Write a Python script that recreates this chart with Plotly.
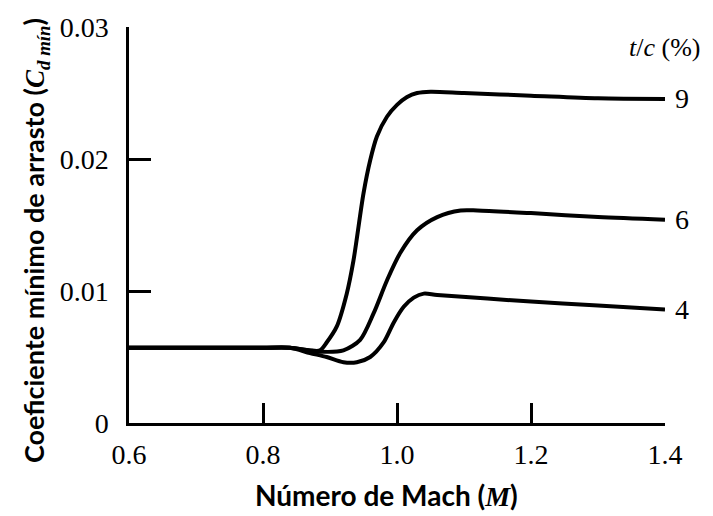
import plotly.graph_objects as go

# Data
mach_9 = [0.6, 0.7, 0.8, 0.84, 0.87, 0.885, 0.895, 0.91, 0.925, 0.935, 0.95, 0.96, 0.97, 0.985, 1.0, 1.015, 1.03, 1.05, 1.1, 1.2, 1.3, 1.4]
cd_9 = [0.0057, 0.0057, 0.0057, 0.0057, 0.0055, 0.0055, 0.0061, 0.0073, 0.0098, 0.0123, 0.0174, 0.0199, 0.0217, 0.0232, 0.0241, 0.0247, 0.0250, 0.0251, 0.0250, 0.0248, 0.0246, 0.02455]

mach_6 = [0.6, 0.7, 0.8, 0.84, 0.87, 0.885, 0.92, 0.945, 0.965, 0.985, 1.005, 1.03, 1.06, 1.095, 1.12, 1.2, 1.3, 1.4]
cd_6 = [0.0057, 0.0057, 0.0057, 0.0057, 0.0055, 0.0054, 0.0055, 0.0063, 0.0083, 0.0108, 0.0129, 0.0146, 0.0156, 0.0161, 0.0161, 0.0159, 0.0156, 0.0154]

mach_4 = [0.6, 0.7, 0.8, 0.84, 0.87, 0.895, 0.92, 0.94, 0.96, 0.98, 0.995, 1.01, 1.025, 1.04, 1.06, 1.2, 1.3, 1.4]
cd_4 = [0.0057, 0.0057, 0.0057, 0.0057, 0.0053, 0.0050, 0.0046, 0.0046, 0.0050, 0.0061, 0.0076, 0.0088, 0.0095, 0.0098, 0.0097, 0.0092, 0.0089, 0.0086]

series = [("9", mach_9, cd_9), ("6", mach_6, cd_6), ("4", mach_4, cd_4)]

x_tickvals = [0.6, 0.8, 1.0, 1.2, 1.4]
x_ticktext = ["0.6", "0.8", "1.0", "1.2", "1.4"]
y_tickvals = [0, 0.01, 0.02, 0.03]
y_ticktext = ["0", "0.01", "0.02", "0.03"]

SERIF = "Liberation Serif, Times New Roman, serif"
SANS = "Lato, sans-serif"

fig = go.Figure()
for name, xs, ys in series:
    fig.add_trace(go.Scatter(
        x=xs, y=ys, mode="lines", name=name,
        line=dict(color="black", width=4, shape="spline", smoothing=0.8),
        hoverinfo="skip", showlegend=False,
    ))
    fig.add_annotation(
        x=xs[-1], y=ys[-1], xref="x", yref="y", text=name,
        showarrow=False, xanchor="left", yanchor="middle", xshift=8,
        font=dict(family=SERIF, size=28, color="black"),
    )

fig.add_annotation(
    x=1.0, y=1.0, xref="paper", yref="paper",
    text="<i>t</i>/<i>c</i> (%)", showarrow=False,
    xanchor="left", yanchor="middle", xshift=-38, yshift=-20,
    font=dict(family=SERIF, size=26, color="black"),
)

# Axis titles
fig.add_annotation(
    x=-0.1754, y=0.462, xref="paper", yref="paper",
    text="Coeficiente mínimo de arrasto (<span style=\"font-family:'Liberation Serif'\"><i>C</i><sub><i>d mín</i></sub></span>)",
    textangle=-90, showarrow=False, xanchor="center", yanchor="middle",
    font=dict(family=SANS, size=27, color="black", weight="bold"),
)
fig.add_annotation(
    x=0.480, y=-0.182, xref="paper", yref="paper",
    text="Número de Mach (<span style=\"font-family:'Liberation Serif'\"><i>M</i></span>)",
    showarrow=False, xanchor="center", yanchor="middle",
    font=dict(family=SANS, size=28, color="black", weight="bold"),
)

fig.update_xaxes(
    range=[0.6, 1.4], tickvals=x_tickvals, ticktext=x_ticktext,
    showline=True, linecolor="black", linewidth=2.5,
    ticks="inside", ticklen=20, tickwidth=2.5, tickcolor="black",
    showgrid=False, zeroline=False, ticklabelstandoff=5,
    tickfont=dict(family=SERIF, size=28, color="black"),
)
fig.update_yaxes(
    range=[0, 0.03], tickvals=y_tickvals, ticktext=y_ticktext,
    showline=True, linecolor="black", linewidth=2.5,
    ticks="inside", ticklen=22, tickwidth=2.5, tickcolor="black",
    showgrid=False, zeroline=False, ticklabelstandoff=12,
    tickfont=dict(family=SERIF, size=28, color="black"),
)

fig.update_layout(
    width=713, height=516,
    margin=dict(l=129, r=48, t=27, b=93),
    plot_bgcolor="white", paper_bgcolor="white",
    font=dict(family=SERIF, color="black"),
)

fig.write_html("out.html")
